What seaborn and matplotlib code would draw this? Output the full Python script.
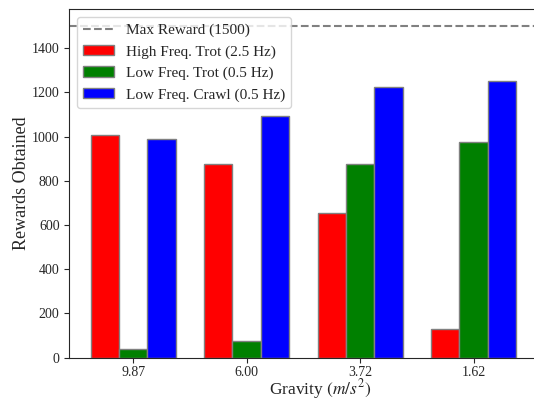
import pandas as pd
import seaborn as sns
import matplotlib.pyplot as plt

gravity = ["9.87", "6.00", "3.72", "1.62"]
gaits = ["High Freq. Trot (2.5 Hz)", "Low Freq. Trot (0.5 Hz)", "Low Freq. Crawl (0.5 Hz)"]
high_trot = [1007, 875, 653, 128]
low_trot = [40, 75, 878, 975]
low_crawl = [988, 1095, 1225, 1250]
max_reward = 1500
colors = ["red", "green", "blue"]

rows = []
for gait, vals in zip(gaits, [high_trot, low_trot, low_crawl]):
    for g, v in zip(gravity, vals):
        rows.append({"gravity": g, "gait": gait, "reward": v})
df = pd.DataFrame(rows)

sns.set_style("ticks")
plt.rcParams["font.family"] = ["Liberation Serif", "DejaVu Serif"]
plt.rcParams["mathtext.fontset"] = "stix"

fig = plt.figure(figsize=(5.34, 4.0), dpi=100)
# right edge of the axes sits past the picture, as in the cropped original
ax = fig.add_axes([0.1298, 0.1058, 0.9395, 0.8705])

ax.axhline(max_reward, color="gray", linestyle="--", linewidth=1.5, label=f"Max Reward ({max_reward})")
sns.barplot(data=df, x="gravity", y="reward", hue="gait", order=gravity, hue_order=gaits,
            palette=colors, width=0.75, edgecolor="gray", linewidth=1, saturation=1, ax=ax)

ax.set_xlim(-0.5625, 3.858)
ax.set_ylim(0, 1575)
ax.set_xlabel("Gravity $(m/s^2)$", fontsize=12.5, labelpad=-1.5)
ax.set_ylabel("Rewards Obtained", fontsize=13, labelpad=1)
ax.tick_params(labelsize=10)
ax.tick_params(axis="x", pad=2.5)
ax.legend(loc="upper left", fontsize=11)

fig.savefig("out.png", dpi=100)
